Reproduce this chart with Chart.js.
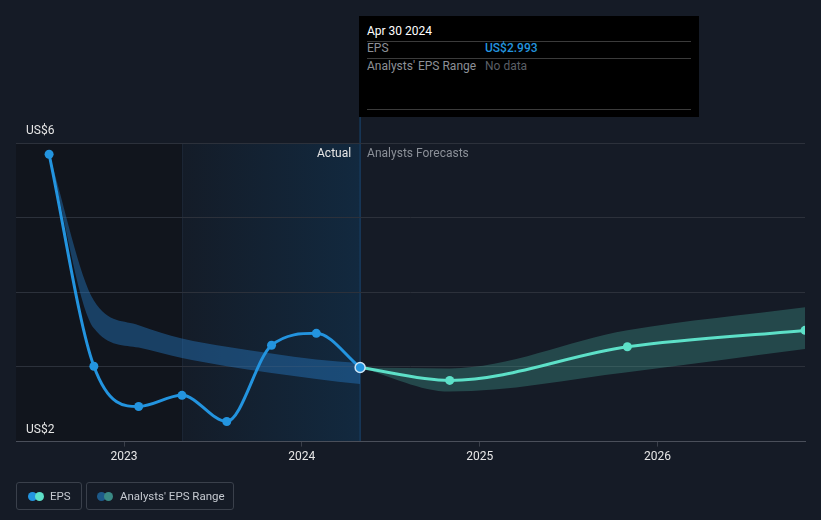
<!DOCTYPE html>
<html>
<head>
<meta charset="utf-8">
<script src="https://cdn.jsdelivr.net/npm/chart.js@4.4.1/dist/chart.umd.min.js"></script>
<style>
  html, body { margin: 0; padding: 0; background: #151b26; }
  body { width: 821px; height: 520px; position: relative; overflow: hidden; font-family: Roboto, "Open Sans", sans-serif; }
  #chart { position: absolute; left: 0; top: 0; }
  .tip { position: absolute; left: 359px; top: 16px; width: 340px; height: 101px; background: #000; }
  .tip .t { position: absolute; left: 8px; top: 8px; color: #fff; font-size: 12px; }
  .tip .hr { position: absolute; left: 8px; width: 324px; height: 1px; background: #3b3b3b; }
  .tip .lab { position: absolute; left: 8px; color: #8d9097; font-size: 12px; }
  .tip .val { position: absolute; left: 126px; font-size: 12px; }
  .legend { position: absolute; top: 482px; height: 26px; border: 1px solid #3a404b; border-radius: 3px; color: #c5c9d0; font-size: 11.5px; }
  .legend span.txt { position: absolute; top: 6px; }
  .dot { position: absolute; top: 9px; width: 9px; height: 9px; border-radius: 50%; }
</style>
</head>
<body>
<canvas id="chart" width="821" height="520"></canvas>

<div class="tip">
  <div class="t">Apr 30 2024</div>
  <div class="hr" style="top:25px"></div>
  <div class="lab" style="top:25px">EPS</div>
  <div class="val" style="top:25px;color:#2394df;font-weight:500">US$2.993</div>
  <div class="hr" style="top:42px"></div>
  <div class="lab" style="top:43px">Analysts' EPS Range</div>
  <div class="val" style="top:43px;color:#5b5f66">No data</div>
  <div class="hr" style="top:93px"></div>
</div>

<div class="legend" style="left:16px;width:64px">
  <div class="dot" style="left:11px;background:#2394df"></div>
  <div class="dot" style="left:18px;background:#5de0c8"></div>
  <span class="txt" style="left:33px">EPS</span>
</div>
<div class="legend" style="left:86px;width:146px">
  <div class="dot" style="left:10px;background:#1d5a8a"></div>
  <div class="dot" style="left:17px;background:#3a8a85"></div>
  <span class="txt" style="left:33px">Analysts' EPS Range</span>
</div>

<script>
// actual EPS (trailing), quarterly
const actualDates = ["2022-07-31", "2022-10-31", "2023-01-31", "2023-04-30", "2023-07-31", "2023-10-31", "2024-01-31", "2024-04-30"];
const actualEps = [5.85, 3.01, 2.47, 2.62, 2.27, 3.29, 3.45, 2.993];
const pastRangeLow = [5.85, 3.52, 3.26, 3.12, 3.01, 2.92, 2.84, 2.77];
const pastRangeHigh = [5.85, 3.89, 3.56, 3.38, 3.27, 3.18, 3.10, 3.05];

// analysts forecasts
const forecastDates = ["2024-04-30", "2024-10-31", "2025-10-31", "2026-10-31"];
const forecastEps = [2.993, 2.82, 3.27, 3.49];
const forecastLow = [2.993, 2.67, 2.93, 3.24];
const forecastHigh = [2.993, 2.98, 3.49, 3.80];

const yearTicks = [2023, 2024, 2025, 2026];
const yLabels = [2, 6];

const ts = d => Date.parse(d + "T00:00:00Z");
const pts = (dates, vals) => dates.map((d, i) => ({ x: ts(d), y: vals[i] }));

const xMin = ts("2022-05-24");
const xMax = ts("2026-10-31");
const highlightStart = ts("2023-04-30");
const nowDate = ts("2024-04-30");

const FONT = "Roboto, 'Open Sans', sans-serif";

const backdrop = {
    id: "backdrop",
    beforeDraw(chart) {
        const { ctx, chartArea: a, scales: { x } } = chart;
        const hx = x.getPixelForValue(highlightStart);
        const nx = x.getPixelForValue(nowDate);
        ctx.save();
        ctx.fillStyle = "#11151d";
        ctx.fillRect(a.left, a.top, hx - a.left, a.bottom - a.top);
        const g = ctx.createLinearGradient(hx, 0, nx, 0);
        g.addColorStop(0, "#141c28");
        g.addColorStop(1, "#12293f");
        ctx.fillStyle = g;
        ctx.fillRect(hx, a.top, nx - hx, a.bottom - a.top);
        ctx.strokeStyle = "#1c2735";
        ctx.lineWidth = 1;
        ctx.beginPath();
        ctx.moveTo(hx + 0.5, a.top);
        ctx.lineTo(hx + 0.5, a.bottom);
        ctx.stroke();
        ctx.strokeStyle = "#173a5c";
        ctx.lineWidth = 1.5;
        ctx.beginPath();
        ctx.moveTo(nx, 16);
        ctx.lineTo(nx, a.bottom);
        ctx.stroke();
        ctx.restore();
    },
    afterDraw(chart) {
        const { ctx, chartArea: a, scales: { x, y } } = chart;
        const nx = x.getPixelForValue(nowDate);
        ctx.save();
        ctx.font = "12px " + FONT;
        ctx.textBaseline = "middle";
        ctx.fillStyle = "#e6e6e6";
        ctx.textAlign = "right";
        ctx.fillText("Actual", nx - 9, a.top + 11);
        ctx.textAlign = "left";
        ctx.fillStyle = "#8b9098";
        ctx.fillText("Analysts Forecasts", nx + 7, a.top + 11);
        ctx.fillStyle = "#e6e6e6";
        yLabels.forEach(v => {
            ctx.fillText("US$" + v, a.left + 10, y.getPixelForValue(v) - 12);
        });
        ctx.restore();
    }
};

new Chart(document.getElementById("chart").getContext("2d"), {
    type: "line",
    data: {
        datasets: [
            {
                label: "EPS",
                data: pts(actualDates, actualEps),
                borderColor: "#2394df",
                borderWidth: 3,
                cubicInterpolationMode: "monotone",
                pointRadius: actualDates.map((d, i) => i === actualDates.length - 1 ? 5 : 4.5),
                pointBackgroundColor: "#2394df",
                pointBorderColor: actualDates.map((d, i) => i === actualDates.length - 1 ? "#cfe6f7" : "#2394df"),
                pointBorderWidth: actualDates.map((d, i) => i === actualDates.length - 1 ? 1.5 : 0),
                fill: false
            },
            {
                label: "Forecast",
                data: pts(forecastDates, forecastEps),
                borderColor: "#5de0c8",
                borderWidth: 3,
                cubicInterpolationMode: "monotone",
                pointRadius: forecastDates.map((d, i) => i === 0 ? 0 : 4.5),
                pointBackgroundColor: "#5de0c8",
                pointBorderWidth: 0,
                fill: false
            },
            {
                label: "pastHigh",
                data: pts(actualDates, pastRangeHigh),
                borderWidth: 0,
                pointRadius: 0,
                cubicInterpolationMode: "monotone",
                backgroundColor: "rgba(38, 125, 200, 0.42)",
                fill: "+1"
            },
            {
                label: "pastLow",
                data: pts(actualDates, pastRangeLow),
                borderWidth: 0,
                pointRadius: 0,
                cubicInterpolationMode: "monotone",
                fill: false
            },
            {
                label: "fcHigh",
                data: pts(forecastDates, forecastHigh),
                borderWidth: 0,
                pointRadius: 0,
                cubicInterpolationMode: "monotone",
                backgroundColor: "rgba(80, 200, 180, 0.26)",
                fill: "+1"
            },
            {
                label: "fcLow",
                data: pts(forecastDates, forecastLow),
                borderWidth: 0,
                pointRadius: 0,
                cubicInterpolationMode: "monotone",
                fill: false
            }
        ]
    },
    options: {
        responsive: false,
        animation: false,
        events: [],
        layout: { padding: { left: 16, right: 16, top: 143, bottom: 53 } },
        plugins: {
            legend: { display: false },
            tooltip: { enabled: false }
        },
        scales: {
            x: {
                type: "linear",
                min: xMin,
                max: xMax,
                afterBuildTicks(scale) {
                    scale.ticks = yearTicks.map(yr => ({ value: Date.UTC(yr, 0, 1) }));
                },
                ticks: {
                    color: "#e6e6e6",
                    font: { family: FONT, size: 12 },
                    padding: 3,
                    maxRotation: 0,
                    autoSkip: false,
                    callback: v => new Date(v).getUTCFullYear()
                },
                grid: { drawOnChartArea: false, drawTicks: true, tickLength: 5, color: "#3a3f4a" },
                border: { display: true, color: "#4a4f5a", width: 1 }
            },
            y: {
                min: 2,
                max: 6,
                ticks: { display: false, stepSize: 1 },
                grid: { drawTicks: false, color: "#2c313b", lineWidth: 1 },
                border: { display: false }
            }
        }
    },
    plugins: [backdrop]
});
</script>
</body>
</html>
